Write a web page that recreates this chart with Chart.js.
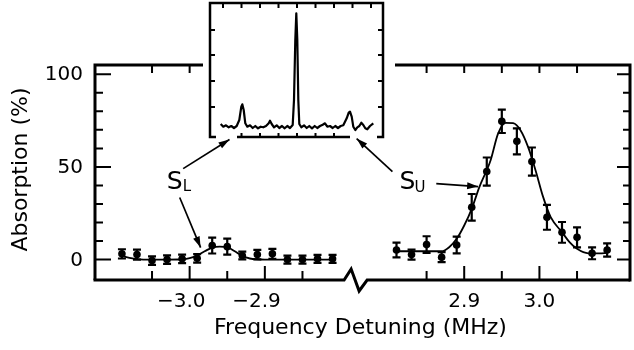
<!DOCTYPE html>
<html>
<head>
<meta charset="utf-8">
<script src="https://cdn.jsdelivr.net/npm/chart.js@4.4.1/dist/chart.umd.min.js"></script>
<style>
  html, body { margin: 0; padding: 0; background: #fff; }
  #wrap { position: relative; width: 634px; height: 350px; }
  #main { position: absolute; left: 0; top: 0; }
  #inset { position: absolute; left: 198px; top: 0; }
</style>
</head>
<body>
<div id="wrap">
  <canvas id="main" width="634" height="350"></canvas>
  <canvas id="inset" width="197" height="146"></canvas>
</div>
<script>
// ── Data ──────────────────────────────────────────────────────────────────
// S_L, lower sideband: measured points (MHz, % absorption, ± error)
const LOWER_FREQ = [-3.09, -3.07, -3.05, -3.03, -3.01, -2.99, -2.97, -2.95, -2.93, -2.91, -2.89, -2.87, -2.85, -2.83, -2.81];
const LOWER_ABS  = [3.1, 2.7, -0.5, 0, 0.4, 0.7, 7.6, 7.0, 2.2, 2.7, 3.1, 0, 0, 0.4, 0.4];
const LOWER_ERR  = [2.5, 2.7, 2.3, 2.3, 2.3, 2.3, 4.3, 4.3, 2.1, 2.6, 2.7, 2.2, 2.2, 2.2, 2.2];
// S_L fitted curve
const LOWER_FIT_FREQ = [-3.09, -3.08, -3.07, -3.05, -3.03, -3.01, -3.00, -2.99, -2.98, -2.97, -2.96, -2.95, -2.94, -2.93, -2.92, -2.90, -2.87, -2.84, -2.81];
const LOWER_FIT_ABS  = [2.0, 1.0, 0.3, 0, 0, 0.2, 0.8, 2.3, 4.5, 6.5, 7.0, 6.7, 4.5, 2.0, 0.6, 0, 0, 0, 0];

// S_U, upper sideband: measured points
const UPPER_FREQ = [2.81, 2.83, 2.85, 2.87, 2.89, 2.91, 2.93, 2.95, 2.97, 2.99, 3.01, 3.03, 3.05, 3.07, 3.09];
const UPPER_ABS  = [5.2, 2.7, 8.1, 1.3, 7.9, 28.2, 47.5, 74.6, 63.8, 52.9, 22.8, 14.7, 12.0, 3.4, 5.2];
const UPPER_ERR  = [4.0, 2.7, 4.5, 2.7, 4.5, 7.2, 7.6, 6.3, 7.0, 7.6, 6.7, 5.6, 5.4, 3.2, 3.6];
// S_U fitted curve
const UPPER_FIT_FREQ = [2.81, 2.87, 2.88, 2.89, 2.90, 2.91, 2.92, 2.935, 2.945, 2.955, 2.965, 2.975, 2.985, 2.995, 3.005, 3.015, 3.03, 3.04, 3.05, 3.065, 3.08, 3.09];
const UPPER_FIT_ABS  = [4.5, 4.5, 6.7, 11.2, 18.4, 27.4, 39, 53.5, 68, 73.8, 73.6, 69.7, 60.7, 48, 33.7, 22.9, 14.8, 9.4, 5.8, 3.4, 3.4, 3.6];

// Inset: full spectrum trace (channel, signal; arbitrary units)
const INSET_CH  = [10.7, 13.3, 16, 18.7, 21.3, 24, 26.7, 29.3, 31.3, 32.3, 33.7, 35.3, 37.3, 40, 42.7, 45.3, 48, 50.7, 53.3, 56, 58.7, 60, 61.7, 64, 66.7, 69.3, 72, 74.7, 77.3, 80, 82.7, 84, 85.3, 86.3, 87.3, 88.3, 89.3, 91.3, 94, 96.7, 99.3, 102, 104.7, 107.3, 110, 112.7, 115, 117.3, 120, 122.7, 125.3, 128, 130.7, 133.3, 136.7, 138.7, 140, 141.7, 143.3, 145.3, 147.3, 149.3, 151.3, 153.3, 155.3, 157.3, 160, 163.3];
const INSET_SIG = [13, 10.3, 11.7, 9.7, 11, 9, 11, 17, 30.3, 32.7, 27, 13.7, 10.3, 11.7, 9, 11, 8.7, 10.3, 9.7, 11, 13.7, 16.3, 13, 9.7, 11.7, 9, 11, 8.7, 11, 9, 12, 37, 97, 123.7, 97, 37, 13, 9.7, 11.7, 9, 11, 8.7, 11, 9, 11, 12.3, 13.7, 10.3, 11, 9, 11, 9, 11, 11.7, 18.7, 24.3, 25.3, 20.3, 10.3, 7, 9.7, 11, 14.3, 12, 8.7, 7.7, 11, 13.7];
const INSET_TICKS_X = [13, 31.5, 50, 68.5, 87, 105.5, 124, 142.5, 161];
const INSET_TICKS_Y = [30, 56, 82, 107];

// Axis ticks
const X_TICKS_LOWER = [-3.05, -3.0, -2.95, -2.9, -2.85];
const X_TICKS_UPPER = [2.85, 2.9, 2.95, 3.0, 3.05];
const X_LABEL_VALUES = [-3.0, -2.9, 2.9, 3.0];
const X_LABEL_TEXT   = ['\u22123.0', '\u22122.9', '2.9', '3.0'];
const Y_TICKS = [0, 10, 20, 30, 40, 50, 60, 70, 80, 90, 100];
const Y_LABEL_VALUES = [0, 50, 100];

// ── Layout / style ───────────────────────────────────────────────────────
const INK = '#000';
const FONT = '"DejaVu Sans", "Liberation Sans", sans-serif';
// right half of the broken axis is shifted so both halves share one linear scale
const SHIFT = 5.535;
const toU = f => (f > 0 ? f - SHIFT : f);
const BREAK_U = -2.78;
const INSET = { left: 198, width: 197 };

const pts = (xs, ys) => xs.map((v, i) => ({ x: toU(v), y: ys[i] }));

// error bars, drawn under the dots
const errorBars = {
    id: 'errorBars',
    beforeDatasetsDraw(chart) {
        const { ctx, scales: { y } } = chart;
        ctx.save();
        ctx.strokeStyle = INK;
        ctx.lineWidth = 2.2;
        chart.data.datasets.forEach((ds, di) => {
            if (!ds.err) return;
            chart.getDatasetMeta(di).data.forEach((el, i) => {
                const v = ds.data[i].y;
                const top = y.getPixelForValue(v + ds.err[i]);
                const bot = y.getPixelForValue(v - ds.err[i]);
                ctx.beginPath();
                ctx.moveTo(el.x, top); ctx.lineTo(el.x, bot);
                ctx.moveTo(el.x - 4, top); ctx.lineTo(el.x + 4, top);
                ctx.moveTo(el.x - 4, bot); ctx.lineTo(el.x + 4, bot);
                ctx.stroke();
            });
        });
        ctx.restore();
    }
};

function arrow(ctx, x0, y0, x1, y1) {
    ctx.beginPath();
    ctx.moveTo(x0, y0);
    ctx.lineTo(x1, y1);
    ctx.stroke();
    const a = Math.atan2(y1 - y0, x1 - x0);
    ctx.beginPath();
    ctx.moveTo(x1, y1);
    ctx.lineTo(x1 - 11 * Math.cos(a) + 3.5 * Math.sin(a), y1 - 11 * Math.sin(a) - 3.5 * Math.cos(a));
    ctx.lineTo(x1 - 11 * Math.cos(a) - 3.5 * Math.sin(a), y1 - 11 * Math.sin(a) + 3.5 * Math.cos(a));
    ctx.closePath();
    ctx.fill();
}

// frame with broken bottom axis, inward ticks, labels and the S_L / S_U callouts
const frame = {
    id: 'frame',
    afterDraw(chart) {
        const { ctx, chartArea: a, scales: { x, y } } = chart;
        const P = (f, v) => [x.getPixelForValue(toU(f)), y.getPixelForValue(v)];
        const gapL = INSET.left + 5, gapR = INSET.left + INSET.width;
        ctx.save();
        ctx.strokeStyle = INK;
        ctx.fillStyle = INK;
        ctx.lineWidth = 3;
        ctx.lineJoin = 'miter';

        ctx.beginPath();
        ctx.moveTo(a.left, a.top - 1.5); ctx.lineTo(a.left, a.bottom);
        ctx.moveTo(a.right, a.top - 1.5); ctx.lineTo(a.right, a.bottom + 1.5);
        ctx.moveTo(a.left - 1.5, a.top); ctx.lineTo(gapL, a.top);
        ctx.moveTo(gapR, a.top); ctx.lineTo(a.right + 1.5, a.top);
        ctx.stroke();

        const bx = x.getPixelForValue(BREAK_U);
        ctx.beginPath();
        ctx.moveTo(a.left - 1.5, a.bottom);
        ctx.lineTo(bx - 11, a.bottom);
        ctx.lineTo(bx - 4, a.bottom - 11);
        ctx.lineTo(bx + 4, a.bottom + 11);
        ctx.lineTo(bx + 12, a.bottom);
        ctx.lineTo(a.right, a.bottom);
        ctx.stroke();

        // ticks
        ctx.lineWidth = 2;
        ctx.beginPath();
        Y_TICKS.forEach(v => {
            const py = y.getPixelForValue(v);
            const major = Y_LABEL_VALUES.includes(v);
            ctx.moveTo(a.left, py); ctx.lineTo(a.left + (major ? 16 : 8), py);
            ctx.moveTo(a.right, py); ctx.lineTo(a.right - (major ? 13 : 7), py);
        });
        X_TICKS_LOWER.concat(X_TICKS_UPPER).forEach(f => {
            const px = x.getPixelForValue(toU(f));
            const major = X_LABEL_VALUES.includes(f);
            ctx.moveTo(px, a.bottom); ctx.lineTo(px, a.bottom - (major ? 14 : 9));
            if (px < gapL - 4 || px > gapR + 4) {
                ctx.moveTo(px, a.top); ctx.lineTo(px, a.top + 8);
            }
        });
        ctx.stroke();

        // tick labels
        ctx.font = '20px ' + FONT;
        ctx.textAlign = 'right';
        ctx.textBaseline = 'middle';
        Y_LABEL_VALUES.forEach(v => {
            ctx.fillText(String(v), a.left - 12, y.getPixelForValue(v) + 1);
        });
        ctx.textBaseline = 'alphabetic';
        X_LABEL_VALUES.forEach((f, i) => {
            const px = x.getPixelForValue(toU(f));
            const w = ctx.measureText(X_LABEL_TEXT[i].replace('\u2212', '')).width;
            ctx.fillText(X_LABEL_TEXT[i], px + w / 2, a.bottom + 27);
        });

        // axis titles
        ctx.font = '22px ' + FONT;
        ctx.textAlign = 'center';
        ctx.fillText('Frequency Detuning (MHz)', (a.left + a.right) / 2 - 2, a.bottom + 54);
        ctx.save();
        ctx.translate(27, (a.top + a.bottom) / 2 - 3);
        ctx.rotate(-Math.PI / 2);
        ctx.fillText('Absorption (%)', 0, 0);
        ctx.restore();

        // callouts
        ctx.textAlign = 'left';
        ctx.font = '25px ' + FONT;
        let p = P(-3.0305, 38.3); ctx.fillText('S', p[0], p[1]);
        p = P(2.8139, 38.3); ctx.fillText('S', p[0], p[1]);
        ctx.font = '15px ' + FONT;
        p = P(-3.0093, 37.0); ctx.fillText('L', p[0], p[1]);
        p = P(2.8338, 36.4); ctx.fillText('U', p[0], p[1]);

        ctx.lineWidth = 1.7;
        let s = P(-3.0086, 49.1), e = P(-2.947, 64.8);
        arrow(ctx, s[0], s[1], e[0], e[1]);
        s = P(-3.0132, 33.5); e = P(-2.9854, 6.5);
        arrow(ctx, s[0], s[1], e[0], e[1]);
        s = P(2.8046, 47.5); e = P(2.757, 65.3);
        arrow(ctx, s[0], s[1], e[0], e[1]);
        s = P(2.8629, 41); e = P(2.9185, 39.4);
        arrow(ctx, s[0], s[1], e[0], e[1]);
        ctx.restore();
    }
};

const fitLine = (data) => ({
    data,
    showLine: true,
    borderColor: INK,
    borderWidth: 1.8,
    pointRadius: 0,
    cubicInterpolationMode: 'monotone',
    fill: false
});
const dots = (data, err) => ({
    data,
    err,
    showLine: false,
    pointRadius: 3.8,
    pointBackgroundColor: INK,
    pointBorderColor: INK,
    pointBorderWidth: 0
});

/* global Chart */
new Chart(document.getElementById('main'), {
    type: 'scatter',
    plugins: [errorBars, frame],
    data: {
        datasets: [
            fitLine(pts(LOWER_FIT_FREQ, LOWER_FIT_ABS)),
            fitLine(pts(UPPER_FIT_FREQ, UPPER_FIT_ABS)),
            dots(pts(LOWER_FREQ, LOWER_ABS), LOWER_ERR),
            dots(pts(UPPER_FREQ, UPPER_ABS), UPPER_ERR)
        ]
    },
    options: {
        responsive: false,
        animation: false,
        devicePixelRatio: 1,
        layout: { padding: { left: 95, right: 2, top: 65, bottom: 70 } },
        plugins: { legend: { display: false }, tooltip: { enabled: false } },
        scales: {
            x: { type: 'linear', min: -3.1258, max: -2.4146, display: false },
            y: { type: 'linear', min: -11, max: 105, display: false }
        }
    }
});

// inset box: closed on top and sides, bottom only partly drawn
const insetFrame = {
    id: 'insetFrame',
    afterDraw(chart) {
        const { ctx, chartArea: a, scales: { x, y } } = chart;
        const midL = x.getPixelForValue(27), midR = x.getPixelForValue(140);
        ctx.save();
        ctx.strokeStyle = INK;
        ctx.lineWidth = 2.5;
        ctx.beginPath();
        ctx.moveTo(a.left + 6, a.bottom);
        ctx.lineTo(a.left, a.bottom);
        ctx.lineTo(a.left, a.top);
        ctx.lineTo(a.right, a.top);
        ctx.lineTo(a.right, a.bottom);
        ctx.lineTo(a.right - 6, a.bottom);
        ctx.moveTo(midL, a.bottom);
        ctx.lineTo(midR, a.bottom);
        ctx.stroke();
        ctx.lineWidth = 2;
        ctx.beginPath();
        INSET_TICKS_X.forEach(c => {
            const px = x.getPixelForValue(c);
            ctx.moveTo(px, a.top); ctx.lineTo(px, a.top + 5);
            if (px > midL && px < midR) { ctx.moveTo(px, a.bottom); ctx.lineTo(px, a.bottom - 4); }
        });
        INSET_TICKS_Y.forEach(v => {
            const py = y.getPixelForValue(v);
            ctx.moveTo(a.left, py); ctx.lineTo(a.left + 5, py);
            ctx.moveTo(a.right, py); ctx.lineTo(a.right - 5, py);
        });
        ctx.stroke();
        ctx.restore();
    }
};

new Chart(document.getElementById('inset'), {
    type: 'scatter',
    plugins: [insetFrame],
    data: {
        datasets: [{
            data: INSET_CH.map((c, i) => ({ x: c, y: INSET_SIG[i] })),
            showLine: true,
            borderColor: INK,
            borderWidth: 2.2,
            borderJoinStyle: 'round',
            tension: 0,
            pointRadius: 0
        }]
    },
    options: {
        responsive: false,
        animation: false,
        devicePixelRatio: 1,
        layout: { padding: { left: 12, right: 12, top: 3, bottom: 9 } },
        plugins: { legend: { display: false }, tooltip: { enabled: false } },
        scales: {
            x: { type: 'linear', min: 0, max: 173, display: false },
            y: { type: 'linear', min: 0, max: 134, display: false }
        }
    }
});
</script>
</body>
</html>
